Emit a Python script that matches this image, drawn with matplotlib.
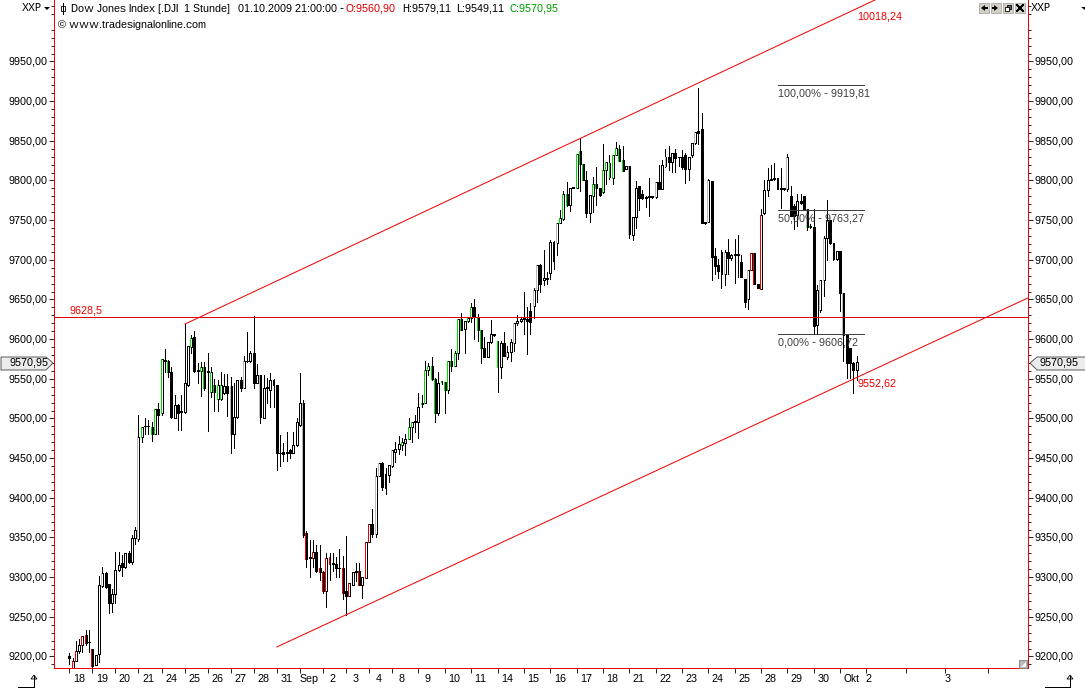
import matplotlib
matplotlib.use("Agg")
import matplotlib.pyplot as plt
from matplotlib.patches import Polygon, Rectangle
from matplotlib.lines import Line2D

plt.rcParams['font.family'] = ['Liberation Sans', 'DejaVu Sans']
plt.rcParams['text.hinting'] = 'native'
plt.rcParams['text.hinting_factor'] = 1
plt.rcParams['path.snap'] = True

opens = [9200,9186,9194,9207,9214,9227,9218,9209,9189,9203,
 9289,9305,9291,9268,9279,9309,9318,9313,9330,9319,
 9349,9348,9477,9490,9490,9489,9481,9512,9507,9573,
 9572,9559,9500,9517,9508,9508,9542,9590,9603,9560,
 9560,9565,9559,9533,9542,9524,9524,9532,9541,9541,
 9481,9502,9549,9538,9573,9573,9582,9545,9555,9500,
 9538,9536,9548,9542,9456,9458,9456,9460,9457,9466,
 9492,9520,9356,9324,9324,9332,9312,9307,9283,9325,
 9317,9317,9311,9311,9283,9276,9290,9307,9308,9290,
 9299,9344,9367,9354,9427,9444,9430,9429,9440,9458,
 9462,9466,9469,9474,9489,9496,9496,9518,9520,9561,
 9566,9550,9507,9546,9546,9536,9573,9566,9583,9625,
 9613,9623,9627,9640,9628,9612,9589,9578,9596,9606,
 9598,9565,9595,9578,9584,9595,9620,9623,9626,9625,
 9636,9642,9662,9693,9675,9676,9683,9722,9721,9747,
 9751,9783,9769,9791,9791,9837,9821,9800,9759,9781,
 9795,9790,9785,9813,9822,9803,9832,9840,9826,9815,
 9818,9731,9754,9793,9783,9778,9779,9780,9779,9798,
 9789,9818,9830,9823,9835,9829,9830,9832,9815,9832,
 9847,9862,9865,9746,9748,9799,9705,9693,9682,9682,
 9710,9702,9706,9707,9697,9676,9650,9687,9709,9669,
 9663,9759,9788,9801,9802,9803,9789,9789,9789,9781,
 9768,9756,9774,9781,9764,9742,9741,9618,9637,9674,
 9728,9750,9721,9701,9711,9658,9605,9589,9570,9560.90]
highs = [9204,9198,9220,9222,9226,9233,9233,9210,9202,9301,
 9313,9306,9292,9285,9332,9332,9328,9330,9333,9353,
 9363,9504,9489,9500,9498,9495,9512,9519,9575,9588,
 9574,9565,9530,9518,9530,9619,9591,9605,9610,9570,
 9571,9571,9582,9565,9550,9549,9558,9556,9556,9552,
 9545,9549,9552,9579,9609,9585,9629,9569,9555,9555,
 9551,9557,9550,9542,9479,9469,9483,9461,9483,9501,
 9557,9523,9358,9347,9347,9340,9340,9308,9330,9330,
 9331,9325,9335,9327,9352,9293,9307,9318,9318,9300,
 9344,9367,9386,9438,9444,9445,9438,9442,9460,9470,
 9478,9476,9481,9500,9496,9505,9532,9530,9572,9570,
 9577,9551,9559,9547,9546,9573,9587,9585,9625,9633,
 9623,9628,9646,9650,9632,9612,9603,9597,9624,9607,
 9598,9598,9609,9592,9600,9620,9631,9627,9659,9640,
 9645,9664,9693,9695,9712,9685,9725,9724,9747,9763,
 9787,9798,9791,9792,9833,9853,9821,9812,9782,9804,
 9817,9790,9846,9823,9832,9832,9848,9845,9844,9818,
 9818,9754,9799,9793,9788,9781,9803,9781,9798,9820,
 9826,9840,9843,9835,9840,9830,9838,9835,9830,9847,
 9861,9917,9885,9748,9802,9799,9715,9701,9712,9712,
 9726,9707,9726,9731,9706,9676,9687,9709,9709,9669,
 9764,9801,9816,9820,9822,9803,9816,9790,9833,9793,
 9770,9783,9783,9781,9764,9745,9764,9668,9674,9730,
 9775,9750,9721,9711,9711,9658,9605,9589,9571,9579.11]
lows = [9190,9185,9194,9204,9206,9215,9206,9186,9189,9193,
 9288,9286,9255,9256,9268,9308,9301,9312,9318,9316,
 9342,9346,9470,9481,9481,9471,9480,9481,9504,9559,
 9552,9501,9500,9485,9486,9507,9541,9583,9559,9545,
 9528,9536,9484,9527,9510,9510,9523,9531,9503,9457,
 9463,9500,9535,9538,9571,9571,9538,9545,9494,9500,
 9519,9514,9515,9435,9440,9447,9447,9450,9457,9465,
 9491,9351,9313,9300,9313,9306,9296,9280,9262,9296,
 9308,9300,9300,9273,9252,9276,9290,9295,9290,9274,
 9299,9344,9350,9350,9427,9410,9405,9420,9439,9445,
 9455,9460,9454,9474,9470,9483,9475,9515,9520,9555,
 9549,9495,9505,9544,9507,9532,9560,9566,9575,9611,
 9582,9621,9621,9600,9598,9570,9578,9578,9595,9604,
 9534,9551,9579,9575,9573,9585,9618,9621,9607,9581,
 9607,9627,9647,9660,9668,9670,9676,9688,9706,9746,
 9750,9768,9761,9790,9791,9787,9800,9754,9748,9760,
 9769,9781,9784,9795,9802,9795,9832,9825,9812,9814,
 9727,9725,9740,9763,9777,9766,9755,9778,9778,9789,
 9789,9817,9813,9811,9811,9818,9815,9797,9800,9830,
 9846,9846,9746,9745,9748,9675,9682,9677,9665,9668,
 9682,9700,9671,9678,9678,9640,9638,9687,9669,9664,
 9663,9758,9780,9800,9800,9789,9765,9788,9787,9755,
 9739,9743,9770,9764,9738,9740,9608,9608,9634,9655,
 9700,9720,9700,9700,9636,9572,9551,9551,9532,9549.11]
closes = [9198,9194,9207,9214,9226,9217,9218,9188,9202,9290,
 9305,9288,9268,9279,9309,9315,9313,9330,9319,9349,
 9360,9477,9489,9491,9490,9481,9512,9504,9575,9574,
 9559,9502,9517,9507,9510,9545,9591,9601,9560,9561,
 9565,9539,9560,9559,9533,9542,9542,9541,9532,9481,
 9502,9549,9538,9573,9572,9582,9545,9555,9502,9538,
 9540,9548,9542,9456,9457,9455,9458,9457,9466,9496,
 9520,9353,9323,9325,9332,9308,9307,9282,9324,9316,
 9318,9311,9312,9280,9276,9293,9307,9308,9290,9300,
 9344,9367,9354,9427,9444,9414,9413,9441,9460,9462,
 9468,9470,9474,9489,9496,9497,9514,9520,9561,9566,
 9550,9507,9545,9547,9536,9573,9566,9583,9625,9612,
 9623,9627,9640,9628,9612,9589,9578,9597,9606,9605,
 9565,9595,9579,9584,9597,9620,9623,9625,9627,9623,
 9622,9662,9693,9670,9677,9677,9722,9698,9747,9753,
 9783,9769,9791,9792,9833,9821,9800,9759,9782,9796,
 9790,9782,9813,9823,9804,9832,9841,9825,9812,9818,
 9733,9754,9791,9778,9778,9779,9780,9779,9798,9789,
 9820,9830,9823,9835,9828,9829,9817,9815,9830,9847,
 9861,9860,9747,9748,9800,9704,9692,9686,9710,9710,
 9702,9706,9707,9706,9678,9647,9687,9709,9669,9664,
 9756,9788,9801,9802,9803,9789,9790,9790,9829,9755,
 9755,9774,9771,9764,9741,9743,9617,9662,9674,9728,
 9750,9721,9701,9711,9658,9605,9570,9570,9561,9570.95]
tints = (".rr.rrrr.." "s........." ".sgg.gg.g." "g......g.." "gg.gggg..s"
         "...s....s." ".........." ".sr.r.rrrr" "...r.r..r." "rr.ss...s."
         ".g.gg..ggg" "gg.ggggggg" ".gg.gg...." "g..s.s...." ".ss.....sg"
         "gg..ggg..g" "g.ggggggg." "s.......s." ".s........" "s...s....s"
         "......srr." "r.......s." "....sg..ss" ".....s....")

tick_bars = [0,7,14,21,28,35,42,49,56,63,70,77,84,91,98,106,114,122,130,138,146,154,
             162,170,178,186,194,202,210,218,226,234,242,254,266,279]
tick_labels = ["18","19","20","21","24","25","26","27","28","31","Sep","2","3","4","8","9",
               "10","11","14","15","16","17","18","21","22","23","24","25","28","29","30",
               "Okt","2","","3",""]

support_bars, support_prices = [63, 291.05], [9212, 9652]
resist_bars, resist_prices = [35.1, 244.6], [9619, 10027.5]
level_price = 9628.5
fib_prices = [9919.81, 9763.27, 9606.72]
fib_labels = ["100,00% - 9919,81", "50,00% - 9763,27", "0,00% - 9606,72"]
fib_bars = [215.3, 241.3]
last_close = 9570.95

W, H = 1085, 689
PX = 0.72
LW = 0.6
FS = 8
RED = '#f00000'
fig = plt.figure(figsize=(W/100, H/100), dpi=100, facecolor='white')
ax = fig.add_axes([54/W, (H-668)/H, (1028-54)/W, 668/H])
ax.set_xlim(-4.64, 291.05)
ax.set_ylim(9185.5, 10027.5)
ax.spines['top'].set_visible(False)
for s in ('left', 'right', 'bottom'):
    ax.spines[s].set_color('#f00000')
    ax.spines[s].set_linewidth(LW)
    ax.spines[s].set_antialiased(False)

xs = list(range(len(opens)))
tint_map = {'g': '#00e000', 'r': '#f00000', 's': '#b8b8b8'}
ax.vlines(xs, lows, highs, colors='k', linewidth=LW, antialiased=False, zorder=2)
for x, o, c, t in zip(xs, opens, closes, tints):
    lo, hi = min(o, c), max(o, c)
    fc = 'k' if c < o else 'white'
    ax.bar(x, max(hi-lo, 0.6), bottom=lo, width=0.6, facecolor=fc, edgecolor='k',
           linewidth=LW, antialiased=False, zorder=3)
    if t in tint_map:
        ax.vlines(x-0.3, lo, hi, colors=tint_map[t], linewidth=LW, antialiased=False, zorder=4)

ax.plot(support_bars, support_prices, color=RED, lw=0.72, antialiased=True, zorder=5)
ax.plot(resist_bars, resist_prices, color=RED, lw=0.72, antialiased=True, zorder=5)
ax.axhline(level_price, color='#e00000', lw=LW, antialiased=False, zorder=5)

for p, lab in zip(fib_prices, fib_labels):
    ax.plot(fib_bars, [p, p], color='#404040', lw=LW, antialiased=False, zorder=6)
    ax.annotate(lab, (fib_bars[0], p), xytext=(0, -4*PX), textcoords='offset points',
                va='top', ha='left', fontsize=FS, color='#404040', zorder=7)

txt = dict(fontsize=FS, va='center', zorder=7)
ax.annotate("9628,5", (0, level_price), xytext=(0, 6*PX), textcoords='offset points',
            ha='left', color=RED, **txt)
ax.annotate("10018,24", (239.2, 10018.24), xytext=(0, -10*PX), textcoords='offset points',
            ha='left', color=RED, **txt)
ax.annotate("9552,62", (239.2, 9552.62), xytext=(0, -7*PX), textcoords='offset points',
            ha='left', color=RED, **txt)

majors = list(range(9200, 10000, 50))
minors = [v for v in range(9190, 10030, 10) if v % 50]
ax.set_yticks(majors)
ax.set_yticklabels([f"{v},00" for v in majors], fontsize=FS)
ax.set_yticks(minors, minor=True)
ax.tick_params(axis='y', which='major', length=5*PX, width=LW, left=True, right=True,
               labelleft=True, labelright=True, pad=1)
ax.tick_params(axis='y', which='minor', length=3*PX, width=LW, left=True, right=True)
ax.set_xticks(tick_bars)
ax.set_xticklabels([])
ax.tick_params(axis='x', which='major', length=5*PX, width=LW, direction='out')
for b, lab in zip(tick_bars, tick_labels):
    off = 2.5 if b >= 242 else (11 if lab == "Okt" else 9.5)
    ax.annotate(lab, (b, 9185.5), xytext=(off*PX, -11*PX), textcoords='offset points',
                ha='center', va='center', fontsize=FS, annotation_clip=False)

def ft(x, y, s, **kw):
    fig.text(x/W, 1-y/H, s, fontsize=FS, va='center', ha='left', **kw)
ft(22, 8, "XXP"); ft(1031, 8, "XXP")
ft(71, 8.5, "Dow Jones Index [.DJI  1 Stunde]")
ft(238, 8.5, "01.10.2009 21:00:00 -")
ft(346, 8.5, "O:9560,90", color='#e00000')
ft(402, 8.5, "H:9579,11")
ft(456, 8.5, "L:9549,11")
ft(510, 8.5, "C:9570,95", color='#00a000')
ft(58, 25, "© www.tradesignalonline.com")

def poly(pts, **kw):
    fig.add_artist(Polygon([(x/W, 1-y/H) for x, y in pts], transform=fig.transFigure, **kw))
def line(xs_, ys_, **kw):
    fig.add_artist(Line2D([x/W for x in xs_], [1-y/H for y in ys_], transform=fig.transFigure,
                          color=kw.pop('color', 'k'), lw=LW, antialiased=False, **kw))

poly([(44,7),(50,7),(47,10)], fc='k', ec='none')
poly([(1081,7),(1085,7),(1085,10)], fc='k', ec='none')
line([63,63],[3,14]); poly([(61,6),(65,6),(65,11),(61,11)], fc='white', ec='k', lw=LW)
for bx in [979,991,1003,1015]:
    fig.add_artist(Rectangle((bx/W, 1-13/H), 10/W, 10/H, transform=fig.transFigure,
                             fc='#d4d0c8', ec='#a8a8a8', lw=LW))
poly([(981,8),(985,5),(985,11)], fc='k', ec='none')
poly([(985,7),(988,7),(988,9),(985,9)], fc='k', ec='none')
poly([(998,8),(994,5),(994,11)], fc='k', ec='none')
poly([(991.5,7),(994,7),(994,9),(991.5,9)], fc='k', ec='none')
poly([(1007,5),(1011,5),(1011,9),(1007,9)], fc='#606060', ec='k', lw=LW)
poly([(1005,7),(1009,7),(1009,11),(1005,11)], fc='white', ec='k', lw=LW)
line([1017,1023],[5,11]); line([1017,1023],[11,5])

for pts, tx in (([(1,357),(46,357),(53,363),(46,370),(1,370)], 9),
                ([(1086,357),(1037,357),(1030,363),(1037,370),(1086,370)], 1040)):
    poly(pts, fc='#ececec', ec='#404040', lw=LW, zorder=8)
    fig.text(tx/W, 1-363.5/H, "9570,95", fontsize=FS, va='center', ha='left', zorder=9)

poly([(1019,660),(1027,660),(1027,668),(1019,668)], fc='#b8b8b8', ec='#808080', lw=LW)
poly([(1021,667),(1026,662),(1026,667)], fc='white', ec='none')
for x0, x1 in ((18, 37), (1045, 1073)):
    line([x0, x1-3, x1-3], [687, 687, 676])
    poly([(x1-6,679),(x1-3,675),(x1,679)], fc='none', ec='k', lw=LW)

fig.savefig("out.png", dpi=100, facecolor='white')
